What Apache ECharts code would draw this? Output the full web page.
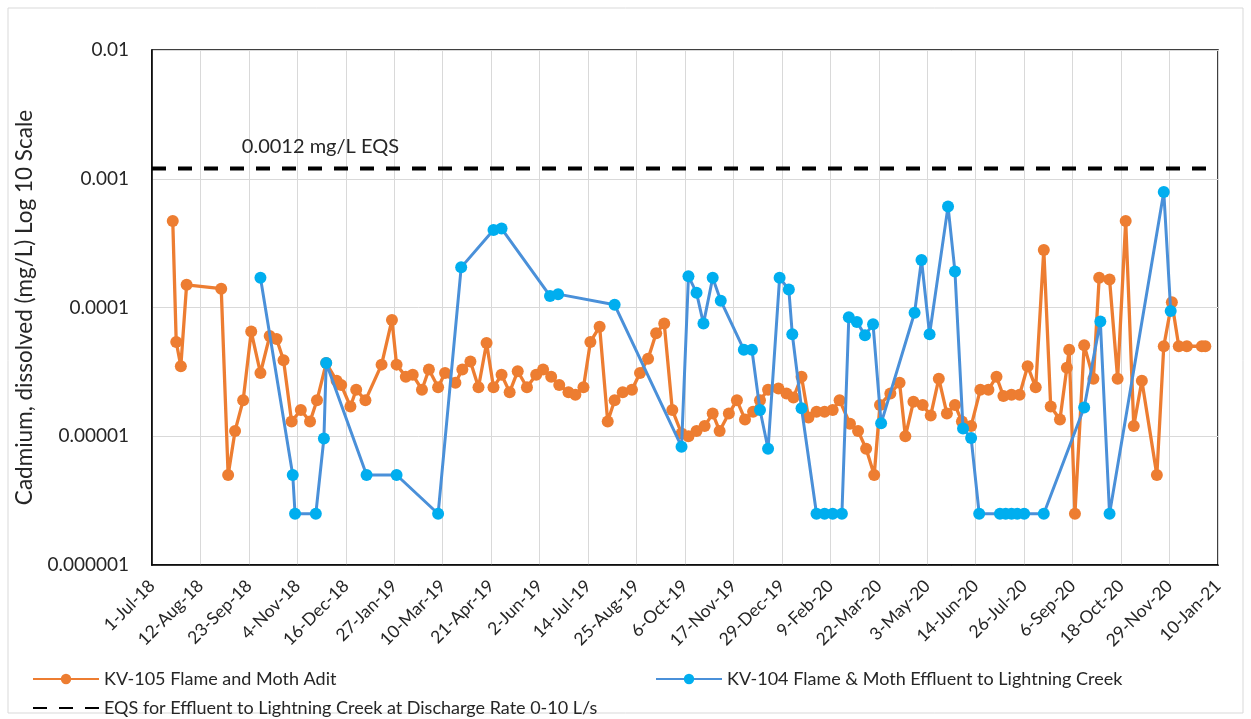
<!DOCTYPE html>
<html><head><meta charset="utf-8">
<script src="https://cdn.jsdelivr.net/npm/echarts@6/dist/echarts.min.js"></script>
<style>html,body{margin:0;padding:0;background:#fff}#c{width:1251px;height:719px}</style>
</head><body><div id="c"></div>
<script>
// ---- data ----
const axisStart = '2018-07-01';
const axisEnd = '2021-01-10';
const tickDays = 42;
const monthNames = ['Jan','Feb','Mar','Apr','May','Jun','Jul','Aug','Sep','Oct','Nov','Dec'];
const yMin = 0.000001, yMax = 0.01;
const eqsValue = 0.0012;
const eqsLabelDate = '2018-11-24';
const eqsLabelText = '0.0012 mg/L EQS';
const seriesNames = ['KV-105 Flame and Moth Adit','KV-104 Flame & Moth Effluent to Lightning Creek','EQS for Effluent to Lightning Creek at Discharge Rate 0-10 L/s'];

const kv105Dates = ['2018-07-19','2018-07-22','2018-07-26','2018-07-31','2018-08-30','2018-09-05','2018-09-11','2018-09-18','2018-09-25','2018-10-03',
'2018-10-11','2018-10-17','2018-10-23','2018-10-30','2018-11-07','2018-11-15','2018-11-21','2018-11-29','2018-12-08','2018-12-12',
'2018-12-20','2018-12-25','2019-01-02','2019-01-16','2019-01-25','2019-01-29','2019-02-06','2019-02-12','2019-02-20','2019-02-26',
'2019-03-06','2019-03-12','2019-03-21','2019-03-27','2019-04-03','2019-04-10','2019-04-17','2019-04-23','2019-04-30','2019-05-07',
'2019-05-14','2019-05-22','2019-05-30','2019-06-05','2019-06-12','2019-06-19','2019-06-27','2019-07-03','2019-07-10','2019-07-16',
'2019-07-24','2019-07-31','2019-08-06','2019-08-13','2019-08-21','2019-08-28','2019-09-04','2019-09-11','2019-09-18','2019-09-25',
'2019-10-03','2019-10-09','2019-10-16','2019-10-23','2019-10-30','2019-11-05','2019-11-13','2019-11-20','2019-11-27','2019-12-04',
'2019-12-10','2019-12-17','2019-12-26','2020-01-02','2020-01-08','2020-01-15','2020-01-21','2020-01-28','2020-02-04','2020-02-11',
'2020-02-17','2020-02-26','2020-03-04','2020-03-11','2020-03-18','2020-03-23','2020-04-01','2020-04-09','2020-04-14','2020-04-21',
'2020-04-29','2020-05-06','2020-05-13','2020-05-20','2020-05-27','2020-06-02','2020-06-10','2020-06-18','2020-06-25','2020-07-02',
'2020-07-08','2020-07-15','2020-07-22','2020-07-29','2020-08-05','2020-08-12','2020-08-18','2020-08-26','2020-09-01','2020-09-03',
'2020-09-08','2020-09-16','2020-09-24','2020-09-29','2020-10-08','2020-10-15','2020-10-22','2020-10-29','2020-11-05','2020-11-18',
'2020-11-24','2020-12-01','2020-12-07','2020-12-14','2020-12-27','2020-12-30'];
const kv105Values = [4.7e-4,5.4e-5,3.5e-5,1.5e-4,1.4e-4,5.0e-6,1.1e-5,1.9e-5,6.5e-5,3.1e-5,
6.0e-5,5.7e-5,3.9e-5,1.3e-5,1.6e-5,1.3e-5,1.9e-5,3.7e-5,2.7e-5,2.5e-5,
1.7e-5,2.3e-5,1.9e-5,3.6e-5,8.0e-5,3.6e-5,2.9e-5,3.0e-5,2.3e-5,3.3e-5,
2.4e-5,3.1e-5,2.6e-5,3.3e-5,3.8e-5,2.4e-5,5.3e-5,2.4e-5,3.0e-5,2.2e-5,
3.2e-5,2.4e-5,3.0e-5,3.3e-5,2.9e-5,2.5e-5,2.2e-5,2.1e-5,2.4e-5,5.4e-5,
7.1e-5,1.3e-5,1.9e-5,2.2e-5,2.3e-5,3.1e-5,4.0e-5,6.3e-5,7.5e-5,1.6e-5,
1.05e-5,1.0e-5,1.1e-5,1.2e-5,1.5e-5,1.1e-5,1.5e-5,1.9e-5,1.35e-5,1.55e-5,
1.9e-5,2.3e-5,2.35e-5,2.15e-5,2.0e-5,2.9e-5,1.4e-5,1.55e-5,1.55e-5,1.6e-5,
1.9e-5,1.25e-5,1.1e-5,8.0e-6,5.0e-6,1.75e-5,2.15e-5,2.6e-5,1.0e-5,1.85e-5,
1.75e-5,1.45e-5,2.8e-5,1.5e-5,1.75e-5,1.3e-5,1.2e-5,2.3e-5,2.3e-5,2.9e-5,
2.05e-5,2.1e-5,2.1e-5,3.5e-5,2.4e-5,2.8e-4,1.7e-5,1.35e-5,3.4e-5,4.7e-5,
2.5e-6,5.1e-5,2.8e-5,1.7e-4,1.65e-4,2.8e-5,4.7e-4,1.2e-5,2.7e-5,5.0e-6,
5.0e-5,1.1e-4,5.0e-5,5.0e-5,5.0e-5,5.0e-5];

const kv104Dates = ['2018-10-03','2018-10-31','2018-11-02','2018-11-20','2018-11-27','2018-11-29','2019-01-03','2019-01-29','2019-03-06','2019-03-26',
'2019-04-23','2019-04-30','2019-06-11','2019-06-18','2019-08-06','2019-10-03','2019-10-09','2019-10-16','2019-10-22','2019-10-30',
'2019-11-06','2019-11-26','2019-12-03','2019-12-10','2019-12-17','2019-12-27','2020-01-04','2020-01-07','2020-01-15','2020-01-28',
'2020-02-04','2020-02-11','2020-02-19','2020-02-25','2020-03-03','2020-03-10','2020-03-17','2020-03-24','2020-04-22','2020-04-28',
'2020-05-05','2020-05-21','2020-05-27','2020-06-03','2020-06-10','2020-06-17','2020-07-05','2020-07-10','2020-07-15','2020-07-20',
'2020-07-26','2020-08-12','2020-09-16','2020-09-30','2020-10-08','2020-11-24','2020-11-30'];
const kv104Values = [1.7e-4,5.0e-6,2.5e-6,2.5e-6,9.6e-6,3.7e-5,5.0e-6,5.0e-6,2.5e-6,2.05e-4,
4.0e-4,4.1e-4,1.23e-4,1.27e-4,1.05e-4,8.3e-6,1.75e-4,1.3e-4,7.5e-5,1.7e-4,
1.13e-4,4.7e-5,4.7e-5,1.6e-5,8.0e-6,1.7e-4,1.38e-4,6.2e-5,1.65e-5,2.5e-6,
2.5e-6,2.5e-6,2.5e-6,8.4e-5,7.7e-5,6.1e-5,7.4e-5,1.26e-5,9.1e-5,2.34e-4,
6.2e-5,6.1e-4,1.9e-4,1.15e-5,9.7e-6,2.5e-6,2.5e-6,2.5e-6,2.5e-6,2.5e-6,
2.5e-6,2.5e-6,1.67e-5,7.8e-5,2.5e-6,7.9e-4,9.4e-5];

// ---- helpers ----
const DAY = 86400000;
const t0 = Date.parse(axisStart + 'T00:00:00Z');
const dayOf = s => Math.round((Date.parse(s + 'T00:00:00Z') - t0) / DAY);
const fmtDay = d => { const dt = new Date(t0 + d * DAY); return dt.getUTCDate() + '-' + monthNames[dt.getUTCMonth()] + '-' + String(dt.getUTCFullYear()).slice(2); };
const zip = (ds, vs) => ds.map((d, i) => [dayOf(d), vs[i]]);
const xMax = dayOf(axisEnd);

const FONT = 'Lato, "Open Sans", sans-serif';
const TXT = '#262626';
const chart = echarts.init(document.getElementById('c'), null, {renderer: 'canvas'});
chart.setOption({
  animation: false,
  backgroundColor: '#fff',
  textStyle: {fontFamily: FONT},
  graphic: [{type: 'rect', shape: {x: 8, y: 8, width: 1235, height: 705}, style: {fill: 'none', stroke: '#d9d9d9', lineWidth: 1}, silent: true, z: -10}],
  grid: {left: 152, right: 33, top: 50, bottom: 154, show: true, borderColor: '#000', borderWidth: 1.5, backgroundColor: 'transparent'},
  legend: [
    {data: [seriesNames[0], {name: seriesNames[2], itemStyle: {opacity: 0}}], orient: 'vertical', left: 32, top: 670, height: 48, padding: 0,
     itemGap: 11, itemWidth: 66, itemHeight: 13,
     textStyle: {fontSize: 18, color: TXT, fontFamily: FONT}},
    {data: [seriesNames[1]], orient: 'vertical', left: 655, top: 670, padding: 0, itemWidth: 66, itemHeight: 13,
     textStyle: {fontSize: 18, color: TXT, fontFamily: FONT}}
  ],
  xAxis: {
    type: 'value', min: 0, max: xMax, interval: tickDays,
    axisLine: {show: true, lineStyle: {color: '#000', width: 1.5}},
    axisTick: {show: false},
    splitLine: {show: true, lineStyle: {color: '#d9d9d9', width: 1}},
    axisLabel: {rotate: 45, fontSize: 17.5, color: TXT, margin: 18, fontFamily: FONT, formatter: v => fmtDay(v)}
  },
  yAxis: {
    type: 'log', logBase: 10, min: yMin, max: yMax,
    name: 'Cadmium, dissolved (mg/L) Log 10 Scale', nameLocation: 'middle', nameGap: 114, nameRotate: 90,
    nameTextStyle: {fontSize: 22.5, color: TXT, fontFamily: FONT},
    axisLine: {show: true, lineStyle: {color: '#000', width: 1.5}},
    axisTick: {show: false},
    splitLine: {show: true, lineStyle: {color: '#d9d9d9', width: 1}},
    axisLabel: {fontSize: 19, color: TXT, margin: 23, fontFamily: FONT,
      formatter: v => v.toFixed(Math.round(-Math.log10(v)))}
  },
  series: [
    {name: seriesNames[0], type: 'line', data: zip(kv105Dates, kv105Values),
     symbol: 'circle', symbolSize: 12, lineStyle: {color: '#ED7D31', width: 3.3}, itemStyle: {color: '#ED7D31'}, z: 3},
    {name: seriesNames[1], type: 'line', data: zip(kv104Dates, kv104Values),
     symbol: 'circle', symbolSize: 12, lineStyle: {color: '#4A90D9', width: 3}, itemStyle: {color: '#00AEEF'}, z: 4},
    {name: seriesNames[2], type: 'line', data: [[0, eqsValue], [xMax, eqsValue]],
     symbol: 'none', lineStyle: {color: '#000', width: 4, type: [14, 12]}, itemStyle: {color: '#000'}, z: 5,
     markPoint: {symbol: 'circle', symbolSize: 0, silent: true,
       data: [{coord: [dayOf(eqsLabelDate), eqsValue], value: eqsLabelText,
         label: {show: true, formatter: eqsLabelText, offset: [0, -22], fontSize: 20, color: TXT, fontFamily: FONT}}]}}
  ]
});
</script></body></html>
